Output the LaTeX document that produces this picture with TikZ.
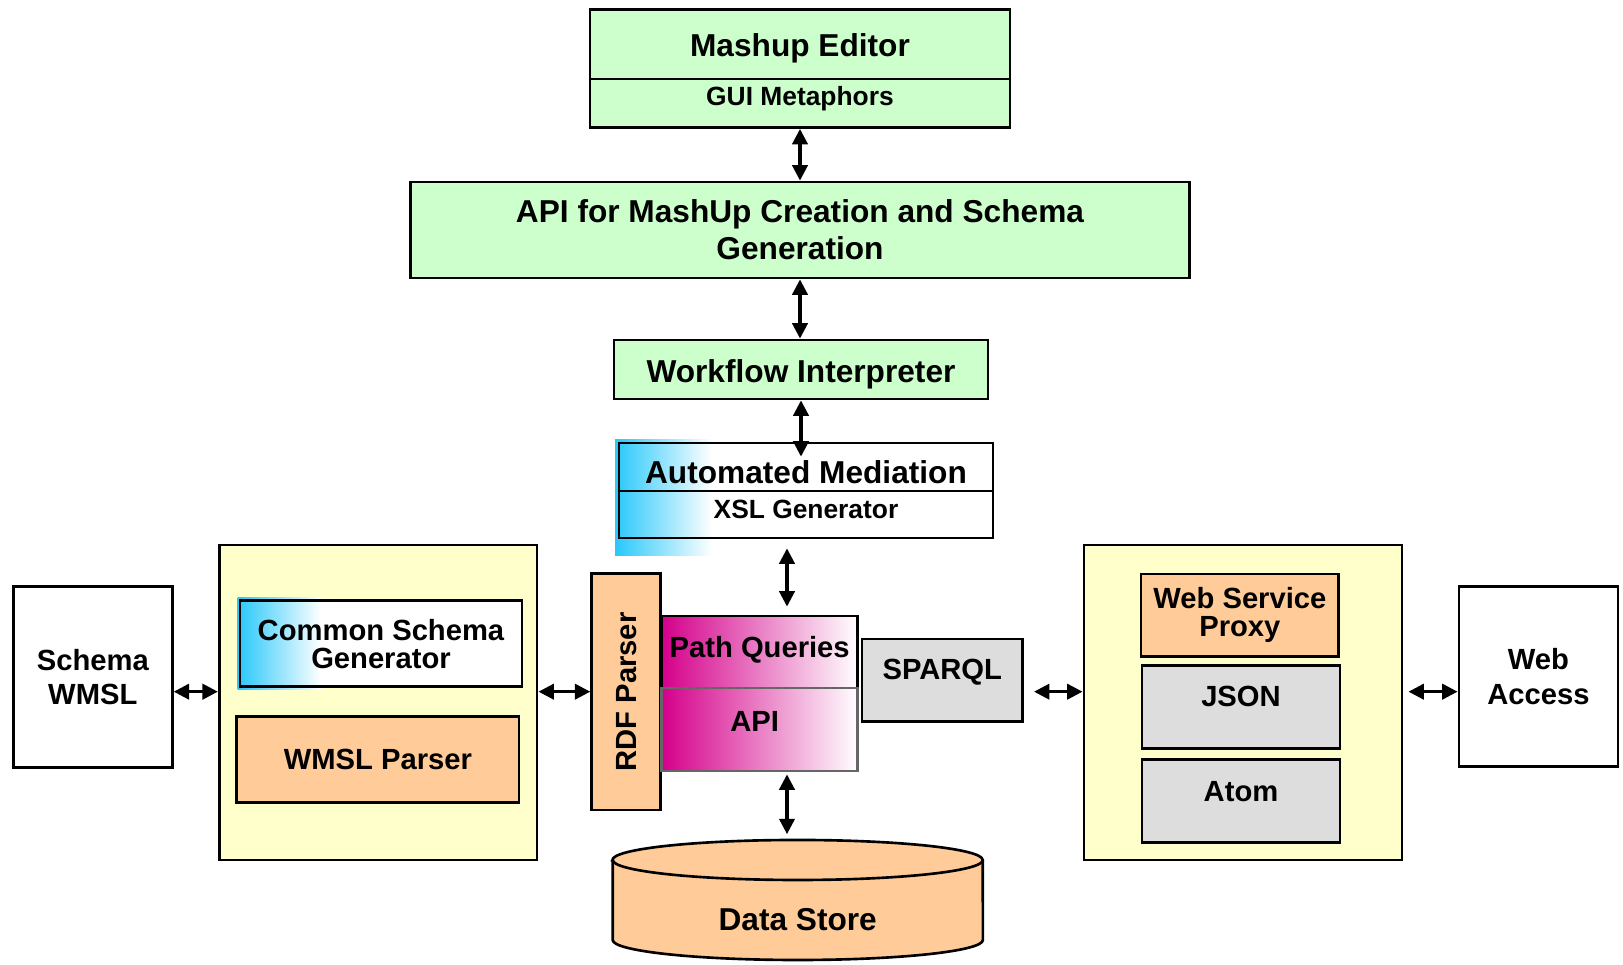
\documentclass[tikz,border=0pt]{standalone}
\usepackage{fontspec}
\setmainfont{Liberation Sans}
\usetikzlibrary{arrows.meta}
\definecolor{mint}{HTML}{CCFFCC}
\definecolor{paleyellow}{HTML}{FFFFCC}
\definecolor{peach}{HTML}{FFCC99}
\definecolor{palegray}{HTML}{DDDDDD}
\definecolor{skyblue}{RGB}{40,200,250}
\definecolor{pinkish}{RGB}{212,0,138}
\newcommand\fbig{\fontsize{9pt}{10.5pt}\selectfont\bfseries}
\newcommand\fmid{\fontsize{8.3pt}{9.9pt}\selectfont\bfseries}
\newcommand\ftight{\fontsize{8.3pt}{8pt}\selectfont\bfseries}
\newcommand\fsmall{\fontsize{7.5pt}{9pt}\selectfont\bfseries}

\begin{document}
\begin{tikzpicture}[x=0.01cm,y=-0.01cm,
    panel/.style={draw,line width=0.75pt,inner sep=0pt,align=center,font=\fmid},
    greenpanel/.style={panel,fill=mint},
    yellowpanel/.style={panel,fill=paleyellow},
    peachpanel/.style={panel,fill=peach},
    graypanel/.style={panel,fill=palegray},
    biarrow/.style={{Triangle[length=4.4pt,width=4.3pt]}-{Triangle[length=4.4pt,width=4.3pt]},line width=1pt}]
    \useasboundingbox (0,0) rectangle (1623,965);

    \node (editor) at (800,44.3) [greenpanel,font=\fbig,text height=7.2pt,text depth=0pt,minimum width=4.2cm,minimum height=0.695cm]{Mashup Editor};
    \node (gui) at (800,103.3) [greenpanel,font=\fsmall,text depth=4.1pt,minimum width=4.2cm,minimum height=0.485cm]{GUI Metaphors};
    \node (api) at (800,230) [greenpanel,font=\fbig,minimum width=7.78cm,minimum height=0.96cm]{API for MashUp Creation and Schema\\Generation};
    \node (workflow) at (801,369.5) [greenpanel,font=\fbig,text height=7.6pt,text depth=0pt,minimum width=3.74cm,minimum height=0.59cm]{Workflow Interpreter};

    \node (leftbox) at (378.2,702.5) [yellowpanel,minimum width=3.177cm,minimum height=3.15cm]{};
    \node (rightbox) at (1243,702.5) [yellowpanel,minimum width=3.18cm,minimum height=3.15cm]{};

    \fill[white] (240,600.7) rectangle (522,686.7);
    \shade[left color=skyblue,right color=white] (237.5,597.7) rectangle (321,689.3);
    \shade[left color=skyblue,right color=white] (615,440) rectangle (712,556);
    \shade[left color=pinkish,middle color=pinkish!35,right color=white] (661.7,616) rectangle (857.7,771);

    \node (auto) at (806,467) [panel,font=\fbig,text height=9.4pt,minimum width=3.74cm,minimum height=0.48cm]{Automated Mediation};
    \node (xsl) at (806,514.5) [panel,font=\fsmall,text depth=3pt,minimum width=3.74cm,minimum height=0.47cm]{XSL Generator};

    \node (common) at (381,643.7) [panel,font=\ftight,minimum width=2.82cm,minimum height=0.86cm]{Common Schema\\Generator};
    \node (wmsl) at (377.9,759.7) [peachpanel,minimum width=2.822cm,minimum height=0.86cm]{WMSL Parser};
    \node (schema) at (92.8,677) [panel,fill=white,minimum width=1.59cm,minimum height=1.806cm]{Schema\\WMSL};

    \node (rdf) at (626.2,691.9) [peachpanel,rotate=90,minimum width=2.363cm,minimum height=0.69cm]{RDF Parser};
    \node (pq) at (759.7,652) [panel,text depth=3pt,minimum width=1.96cm,minimum height=0.72cm]{Path Queries};
    \node (apibox) at (759.7,729.5) [panel,draw=black!60,text depth=4.4pt,minimum width=1.96cm,minimum height=0.83cm]{\hspace*{-0.1cm}API};
    \node (sparql) at (942.3,680.3) [graypanel,text depth=6pt,minimum width=1.606cm,minimum height=0.827cm]{SPARQL};

    \node (proxy) at (1239.9,615.3) [peachpanel,font=\ftight,minimum width=1.977cm,minimum height=0.827cm]{Web Service\\Proxy};
    \node (json) at (1241,707) [graypanel,text depth=5.9pt,minimum width=1.98cm,minimum height=0.826cm]{JSON};
    \node (atom) at (1241,800.8) [graypanel,text depth=5.2pt,minimum width=1.98cm,minimum height=0.83cm]{Atom};
    \node (web) at (1538.5,676.7) [panel,fill=white,minimum width=1.59cm,minimum height=1.8cm]{Web\\Access};

    \filldraw[fill=peach,line width=0.75pt] (612.7,860) -- (612.7,940) arc[start angle=180,end angle=360,x radius=1.85cm,y radius=0.2cm] -- (982.7,860) arc[start angle=0,end angle=180,x radius=1.85cm,y radius=0.2cm] -- cycle;
    \draw[line width=0.75pt] (612.7,860) arc[start angle=180,end angle=360,x radius=1.85cm,y radius=0.2cm];
    \node (store) at (797.7,900) [inner sep=0pt,font=\fbig,text height=17.3pt,minimum width=3.7cm,minimum height=1.2cm]{Data Store};

    \coordinate (row) at (0,691.7);
    \coordinate (tap) at (787,0);

    \draw[biarrow] (node cs:name=gui,anchor=south) -- (node cs:name=api,anchor=north);
    \draw[biarrow] (node cs:name=api,anchor=south) -- (api.south |- workflow.north);
    \draw[biarrow,shorten >=-0.15cm] (node cs:name=workflow,anchor=south) -- (workflow.south |- auto.north);

    \draw[biarrow,shorten <=0.09cm,shorten >=0.08cm] (xsl.south -| tap) -- (pq.north -| tap);
    \draw[biarrow,shorten <=0.02cm,shorten >=0.05cm] (apibox.south -| tap) -- (store.north -| tap);

    \draw[biarrow] (schema.east |- row) -- (leftbox.west |- row);
    \draw[biarrow] (leftbox.east |- row) -- (rdf.north |- row);
    \draw[biarrow,shorten <=0.1cm] (sparql.east |- row) -- (rightbox.west |- row);
    \draw[biarrow,shorten <=0.05cm] (rightbox.east |- row) -- (web.west |- row);

  \end{tikzpicture}
\end{document}
